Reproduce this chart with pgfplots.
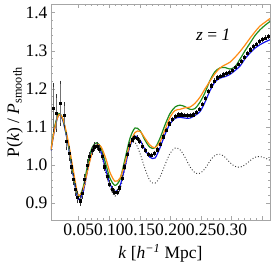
\documentclass[border=0pt]{standalone}
\usepackage{pgfplots}
\pgfplotsset{compat=1.18}
\usepackage{pgfplotstable}
\usepackage{fontspec}
\setmainfont{Liberation Serif}
\definecolor{mblue}{RGB}{20,20,235}
\definecolor{mgreen}{RGB}{30,140,30}
\definecolor{morange}{RGB}{255,140,20}

\pgfplotstableread{
k blue green orange dotted
0.0047 1.038 1.040 1.040 1.038
0.0113 1.100 1.105 1.100 1.100
0.0178 1.132 1.135 1.132 1.132
0.0244 1.115 1.118 1.120 1.115
0.0325 1.055 1.058 1.065 1.055
0.0407 0.975 0.980 0.990 0.975
0.0489 0.910 0.918 0.922 0.910
0.0570 0.928 0.940 0.935 0.925
0.0652 0.993 1.005 0.990 0.990
0.0717 1.035 1.045 1.030 1.032
0.0791 1.052 1.058 1.052 1.050
0.0864 1.035 1.045 1.048 1.030
0.0946 0.985 1.000 1.015 0.975
0.1011 0.950 0.965 0.980 0.940
0.1093 0.930 0.946 0.957 0.918
0.1175 0.945 0.962 0.965 0.935
0.1256 0.995 1.015 1.005 0.990
0.1338 1.050 1.070 1.055 1.050
0.1420 1.075 1.097 1.085 1.059
0.1502 1.065 1.090 1.088 1.030
0.1583 1.040 1.065 1.070 0.990
0.1665 1.020 1.046 1.052 0.958
0.1747 1.018 1.045 1.045 0.952
0.1828 1.045 1.070 1.060 0.968
0.1910 1.080 1.105 1.092 1.000
0.1992 1.108 1.135 1.125 1.030
0.2074 1.122 1.152 1.143 1.044
0.2155 1.125 1.157 1.146 1.040
0.2237 1.123 1.153 1.150 1.020
0.2319 1.123 1.146 1.152 0.995
0.2400 1.130 1.148 1.162 0.979
0.2482 1.140 1.165 1.178 0.978
0.2564 1.165 1.190 1.200 0.990
0.2645 1.195 1.222 1.220 1.010
0.2727 1.218 1.245 1.240 1.025
0.2809 1.228 1.255 1.255 1.028
0.2891 1.232 1.256 1.263 1.020
0.2972 1.238 1.252 1.270 1.006
0.3054 1.248 1.258 1.283 0.996
0.3136 1.260 1.278 1.298 0.994
0.3218 1.279 1.300 1.315 1.000
0.3299 1.294 1.320 1.333 1.011
0.3381 1.307 1.340 1.350 1.020
0.3462 1.316 1.355 1.365 1.022
0.3544 1.323 1.367 1.375 1.018
0.3626 1.329 1.377 1.385 1.012
}\curves

\pgfplotstableread{
k v e
0.0080 1.150 0.060
0.0129 1.136 0.045
0.0194 1.162 0.055
0.0260 1.130 0.030
0.0301 1.062 0.020
0.0342 1.030 0.015
0.0374 0.995 0.015
0.0407 0.962 0.012
0.0440 0.935 0.012
0.0480 0.915 0.012
0.0521 0.906 0.010
0.0554 0.925 0.010
0.0595 0.963 0.010
0.0636 1.000 0.010
0.0676 1.022 0.008
0.0717 1.038 0.008
0.0758 1.048 0.007
0.0799 1.050 0.007
0.0840 1.042 0.006
0.0881 1.022 0.006
0.0922 0.995 0.006
0.0962 0.970 0.005
0.1003 0.950 0.005
0.1044 0.935 0.005
0.1085 0.929 0.004
0.1126 0.928 0.004
0.1167 0.940 0.004
0.1208 0.965 0.004
0.1248 0.995 0.004
0.1289 1.027 0.003
0.1330 1.052 0.003
0.1371 1.066 0.003
0.1412 1.072 0.003
0.1453 1.070 0.003
0.1493 1.063 0.003
0.1534 1.050 0.003
0.1583 1.038 0.002
0.1632 1.028 0.002
0.1681 1.026 0.002
0.1730 1.030 0.002
0.1779 1.040 0.002
0.1828 1.055 0.002
0.1877 1.074 0.002
0.1926 1.092 0.002
0.1975 1.108 0.002
0.2025 1.120 0.002
0.2074 1.128 0.002
0.2123 1.132 0.002
0.2172 1.132 0.002
0.2221 1.131 0.002
0.2270 1.130 0.002
0.2319 1.130 0.002
0.2368 1.132 0.002
0.2417 1.138 0.002
0.2466 1.147 0.002
0.2515 1.160 0.002
0.2564 1.175 0.002
0.2613 1.193 0.002
0.2662 1.208 0.002
0.2711 1.221 0.002
0.2760 1.229 0.002
0.2809 1.234 0.002
0.2858 1.237 0.002
0.2907 1.240 0.002
0.2956 1.243 0.002
0.3005 1.248 0.002
0.3054 1.257 0.002
0.3103 1.265 0.002
0.3152 1.272 0.002
0.3201 1.283 0.002
0.3250 1.294 0.002
0.3299 1.303 0.002
0.3348 1.311 0.002
0.3397 1.318 0.002
0.3446 1.325 0.002
0.3495 1.330 0.002
0.3544 1.334 0.002
0.3593 1.338 0.002
}\data

\begin{document}
\begin{tikzpicture}
\begin{axis}[
  scale only axis,
  width=219pt, height=216pt,
  xmin=0.0047, xmax=0.3626,
  ymin=0.855, ymax=1.423,
  xtick={0.05,0.10,0.15,0.20,0.25,0.30,0.35},
  xticklabels={0.05,0.10,0.15,0.20,0.25,0.30,},
  ytick={0.9,1.0,1.1,1.2,1.3,1.4},
  yticklabels={0.9,1.0,1.1,1.2,1.3,1.4},
  minor x tick num=4,
  minor y tick num=4,
  tick align=inside,
  major tick length=4pt,
  minor tick length=2pt,
  axis line style={gray!70, line width=0.6pt},
  every tick/.style={gray!70, line width=0.5pt},
  tick label style={font=\fontsize{17.5}{20}\selectfont, black},
  label style={font=\fontsize{17.5}{20}\selectfont},
  xlabel={\textit{k} [\textit{h}\textsuperscript{\textit{−1}} Mpc]},
  ylabel={P(\textit{k}) / \textit{P}\textsubscript{smooth}},
  x label style={at={(axis description cs:0.5,-0.153)}, anchor=center},
  y label style={at={(axis description cs:-0.165,0.5)}, anchor=center},
  clip=true,
]
\addplot[black!80, line width=0.9pt, dash pattern=on 0.9pt off 2pt, smooth] table[x=k, y=dotted] {\curves};
\addplot[mblue, line width=1.2pt, smooth] table[x=k, y=blue] {\curves};
\addplot[mgreen, line width=1.2pt, smooth] table[x=k, y=green] {\curves};
\addplot[morange, line width=1.2pt, smooth] table[x=k, y=orange] {\curves};
\addplot[only marks, mark=square*, mark size=1.1pt, black,
  error bars/.cd, y dir=both, y explicit,
  error bar style={gray!90!black, line width=0.7pt},
  error mark options={gray!40!black, mark size=1.6pt, line width=0.6pt}]
  table[x=k, y=v, y error=e] {\data};
\node at (axis cs:0.270,1.342) {\fontsize{17.5}{20}\selectfont\textit{z} = \textit{1}};
\end{axis}
\pgfresetboundingbox
\path ([shift={(-51pt,-48pt)}]current axis.south west) rectangle ([shift={(4pt,4pt)}]current axis.north east);
\end{tikzpicture}
\end{document}
